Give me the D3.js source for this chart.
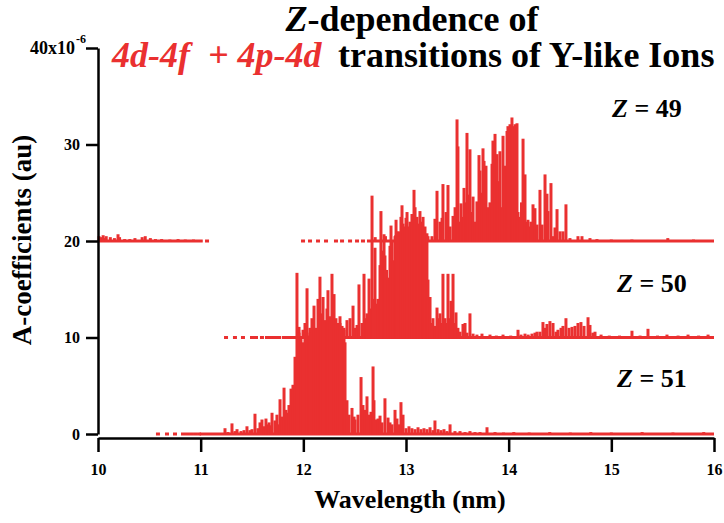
<!DOCTYPE html>
<html>
<head>
<meta charset="utf-8">
<script src="https://d3js.org/d3.v7.min.js"></script>
<style>
body { margin: 0; background: #fff; }
svg text { font-family: "Liberation Serif", "Times New Roman", serif; font-weight: bold; fill: #000; }
</style>
</head>
<body>
<svg id="chart" width="724" height="523"></svg>
<script>
// axis ticks
var xTicks = [10, 11, 12, 13, 14, 15, 16];
var yTicks = [0, 10, 20, 30, 40];

// charge states and their vertical offsets (x10^-6)
var seriesZ = ["49", "50", "51"];
var seriesOffset = [20, 10, 0];

// [wavelength nm, A-coefficient x10^-6] sticks
var z49Sticks = [[10.01,0.5],[10.03,0.4],[10.05,0.6],[10.07,0.3],[10.08,0.5],[10.12,0.4],[10.16,0.3],[10.195,0.7],[10.21,0.4],[10.26,0.2],[10.31,0.2],[10.36,0.3],[10.43,0.4],[10.46,0.5],[10.51,0.3],[10.56,0.2],[10.62,0.2],[10.70,0.15],[10.78,0.2],[10.85,0.15],[10.93,0.15],[11.0,0.1],
  [12.70,0.4],[12.80,0.5],[12.90,0.6],[13.0,0.4],[13.1,0.5],
  [13.214,0.5],[13.253,0.5],[13.282,2.3],[13.302,5.2],[13.331,2.0],[13.351,2.4],[13.360,5.9],[13.390,3.0],[13.409,5.8],[13.429,1.5],[13.458,2.6],[13.478,3.5],[13.497,12.6],[13.506,9.8],[13.526,2.0],[13.536,3.9],[13.555,2.5],[13.565,5.5],[13.580,4.0],[13.594,11.2],[13.604,4.8],[13.623,9.5],[13.638,3.0],[13.653,4.6],[13.672,2.0],[13.691,4.1],[13.711,8.9],[13.721,7.3],[13.740,5.0],[13.750,9.6],[13.760,8.3],[13.779,7.8],[13.799,3.5],[13.818,4.0],[13.838,8.0],[13.847,10.4],[13.867,11.1],[13.886,9.0],[13.896,6.2],[13.915,9.3],[13.935,3.5],[13.945,10.9],[13.964,7.8],[13.984,11.4],[13.993,11.9],[14.013,12.1],[14.032,12.8],[14.042,11.9],[14.062,12.1],[14.081,12.2],[14.091,3.0],[14.110,2.5],[14.125,4.0],[14.140,10.6],[14.159,6.9],[14.178,2.0],[14.188,2.2],[14.203,1.5],[14.217,2.0],[14.237,3.8],[14.256,3.4],[14.276,1.7],[14.305,5.3],[14.325,1.7],[14.354,6.9],[14.373,4.9],[14.383,3.1],[14.412,6.0],[14.432,0.5],[14.451,1.4],[14.471,3.3],[14.500,1.0],[14.529,1.0],[14.558,3.8],[14.597,0.3],[14.675,0.5],[14.714,0.5],[14.792,0.3],[14.860,0.2],[15.0,0.15],[15.2,0.15],[15.55,0.3],[15.8,0.15]];

var z50Sticks = [[11.958,1.1],[11.997,0.8],[12.065,1.0],[12.123,0.6],[12.192,1.4],[12.230,0.8],[12.289,1.2],[12.357,1.5],[12.377,1.2],[12.396,0.8],[12.425,1.8],[12.455,2.0],[12.484,3.3],[12.503,1.0],[12.523,1.3],[12.542,5.5],[12.571,1.5],[12.591,6.6],[12.610,2.0],[12.620,2.5],[12.640,6.1],[12.655,3.0],[12.669,14.7],[12.679,4.0],[12.698,9.3],[12.708,3.5],[12.727,4.0],[12.747,7.5],[12.756,13.1],[12.766,9.0],[12.786,10.7],[12.795,8.5],[12.810,7.0],[12.825,6.2],[12.844,9.5],[12.854,11.6],[12.864,10.0],[12.873,8.0],[12.893,10.5],[12.903,12.2],[12.912,11.0],[12.932,11.0],[12.951,12.5],[12.961,13.7],[12.971,11.8],[12.990,11.5],[13.000,12.4],[13.010,13.0],[13.029,11.5],[13.039,12.0],[13.058,12.8],[13.078,15.3],[13.088,13.5],[13.107,12.5],[13.117,11.8],[13.136,13.1],[13.146,12.0],[13.166,12.5],[13.175,11.0],[13.185,11.5],[13.204,10.8],[13.214,6.0],[13.234,4.2],[13.253,1.5],[13.263,2.0],[13.282,1.2],[13.302,3.1],[13.321,2.0],[13.331,2.5],[13.351,1.5],[13.360,6.6],[13.380,2.0],[13.399,1.5],[13.409,6.6],[13.429,2.0],[13.438,3.8],[13.458,6.6],[13.477,1.5],[13.487,2.6],[13.506,1.0],[13.526,0.6],[13.555,1.4],[13.575,1.5],[13.594,0.5],[13.623,2.5],[13.653,0.4],[13.691,0.3],[13.740,0.4],[13.818,0.3],[13.880,0.2],[13.945,0.3],[14.020,0.2],[14.091,0.8],[14.120,0.3],[14.159,0.4],[14.190,0.3],[14.227,0.4],[14.256,0.5],[14.276,0.6],[14.305,0.6],[14.334,1.6],[14.354,1.0],[14.373,1.4],[14.402,1.7],[14.432,1.5],[14.461,0.6],[14.480,0.8],[14.510,1.0],[14.529,1.2],[14.558,2.0],[14.588,1.0],[14.617,1.1],[14.646,1.2],[14.675,1.5],[14.704,1.6],[14.734,1.2],[14.773,2.1],[14.792,1.3],[14.820,0.5],[14.841,0.6],[14.900,0.3],[14.98,0.2],[15.08,0.2],[15.201,0.7],[15.28,0.2],[15.357,0.9],[15.45,0.2],[15.542,0.3],[15.65,0.2],[15.747,0.3],[15.85,0.2],[15.942,0.3]];

var z51Sticks = [[11.237,0.6],[11.266,0.2],[11.305,1.1],[11.334,0.3],[11.354,0.5],[11.393,0.3],[11.422,0.4],[11.451,0.8],[11.480,0.4],[11.500,0.5],[11.529,2.1],[11.558,0.6],[11.578,1.2],[11.597,1.5],[11.617,0.8],[11.636,1.6],[11.656,1.0],[11.666,1.2],[11.685,0.9],[11.695,2.2],[11.724,1.4],[11.743,2.0],[11.763,1.0],[11.773,3.6],[11.792,1.8],[11.812,4.8],[11.831,2.5],[11.841,2.2],[11.860,3.0],[11.880,4.7],[11.899,5.1],[11.919,8.0],[11.938,16.7],[11.958,10.5],[11.977,10.0],[11.997,9.5],[12.016,11.5],[12.036,15.1],[12.055,10.2],[12.065,10.5],[12.084,12.0],[12.104,13.3],[12.123,11.0],[12.143,14.0],[12.162,16.3],[12.172,12.5],[12.192,14.2],[12.211,11.8],[12.230,13.0],[12.240,14.9],[12.260,12.2],[12.279,16.6],[12.299,14.5],[12.318,12.0],[12.338,11.5],[12.357,12.2],[12.377,10.8],[12.396,11.0],[12.406,9.5],[12.425,3.5],[12.445,2.0],[12.474,2.7],[12.494,1.8],[12.503,1.5],[12.532,2.0],[12.562,5.9],[12.581,3.0],[12.601,2.5],[12.620,3.9],[12.640,2.0],[12.659,2.3],[12.679,7.0],[12.688,3.5],[12.708,1.5],[12.727,1.6],[12.747,1.9],[12.766,1.2],[12.795,3.7],[12.825,1.7],[12.844,1.2],[12.864,1.0],[12.893,2.5],[12.912,1.6],[12.932,1.0],[12.951,3.3],[12.971,2.0],[13.000,0.6],[13.029,0.8],[13.058,0.6],[13.088,0.5],[13.117,0.7],[13.146,0.5],[13.175,0.6],[13.204,0.5],[13.234,0.7],[13.263,0.4],[13.282,1.4],[13.312,0.5],[13.341,0.4],[13.370,0.5],[13.399,0.3],[13.429,1.0],[13.477,0.3],[13.526,0.3],[13.575,0.2],[13.623,0.3],[13.672,0.2],[13.721,0.2],[13.789,0.7],[13.867,0.2],[13.95,0.15],[14.05,0.2],[14.2,0.15],[14.4,0.2],[14.6,0.15],[14.8,0.2],[15.0,0.15],[15.3,0.2],[15.6,0.15],[15.9,0.2]];

// isolated weak lines that show as dots on each baseline
var z49Dots = [11.062, 11.997, 12.065, 12.143, 12.221, 12.318, 12.377, 12.455, 12.523, 12.581];
var z50Dots = [11.247, 11.334, 11.412, 11.500, 11.539, 11.597, 11.646, 11.685, 11.724, 11.763];
var z51Dots = [10.584, 10.672, 10.750, 10.828, 10.867, 10.906, 10.945, 10.984];

// wavelength ranges where the weak lines merge into a solid baseline
var z49Solid = [[10.0, 11.02], [12.62, 16.0]];
var z50Solid = [[11.79, 16.0]];
var z51Solid = [[10.99, 16.0]];

var allSticks = [z49Sticks, z50Sticks, z51Sticks];
var allDots = [z49Dots, z50Dots, z51Dots];
var allSolid = [z49Solid, z50Solid, z51Solid];

var red = "#ea3030";
var svg = d3.select("#chart");

var x = d3.scaleLinear().domain([10, 16]).range([98, 714]);
var y = d3.scaleLinear().domain([0, 40]).range([434, 48]);

// spectra
for (let i = 0; i < seriesZ.length; i++) {
	let off = seriesOffset[i];
	let g = svg.append("g");

	g.selectAll("line.solid")
		.data(allSolid[i])
		.join("line")
		.attr("x1", d => x(d[0]))
		.attr("x2", d => x(d[1]))
		.attr("y1", y(off))
		.attr("y2", y(off))
		.attr("stroke", red)
		.attr("stroke-width", 3);

	g.selectAll("rect.dot")
		.data(allDots[i])
		.join("rect")
		.attr("x", d => x(d) - 2)
		.attr("y", y(off) - 1.5)
		.attr("width", 4)
		.attr("height", 3)
		.attr("fill", red);

	g.selectAll("line.stick")
		.data(allSticks[i])
		.join("line")
		.attr("x1", d => x(d[0]))
		.attr("x2", d => x(d[0]))
		.attr("y1", y(off) + 1)
		.attr("y2", d => y(off + d[1]))
		.attr("stroke", red)
		.attr("stroke-width", 3);
}

// y axis
var yAxis = svg.append("g")
	.attr("transform", "translate(98,0)")
	.call(d3.axisLeft(y).tickValues(yTicks).tickSize(12).tickSizeOuter(0)
		.tickFormat(d => d === 40 ? "" : d));
yAxis.select(".domain").attr("stroke-width", 2.5);
yAxis.selectAll(".tick line").attr("stroke-width", 2.5);
yAxis.selectAll(".tick text").attr("font-size", 16).attr("x", -18);

svg.append("text").attr("x", 75).attr("y", y(40) + 6).attr("text-anchor", "end").attr("font-size", 18).text("40x10");
svg.append("text").attr("x", 76).attr("y", y(40) - 5).attr("font-size", 12).text("-6");

// x axis
var xAxis = svg.append("g")
	.attr("transform", "translate(0,438)")
	.call(d3.axisBottom(x).tickValues(xTicks).tickSize(14).tickSizeOuter(0).tickPadding(12)
		.tickFormat(d3.format("d")));
xAxis.select(".domain").attr("stroke-width", 2.5);
xAxis.selectAll(".tick line").attr("stroke-width", 2.5);
xAxis.selectAll(".tick text").attr("font-size", 16);

// axis titles
svg.append("text")
	.attr("transform", "translate(31,240) rotate(-90)")
	.attr("text-anchor", "middle")
	.attr("font-size", 27)
	.text("A-coefficients (au)");

svg.append("text")
	.attr("x", 410).attr("y", 508)
	.attr("text-anchor", "middle")
	.attr("font-size", 26)
	.text("Wavelength (nm)");

// title
var t1 = svg.append("text").attr("x", 412).attr("y", 31).attr("text-anchor", "middle").attr("font-size", 36);
t1.append("tspan").attr("font-style", "italic").text("Z");
t1.append("tspan").text("-dependence of");

svg.append("text").attr("x", 112).attr("y", 67).attr("font-size", 36)
	.attr("font-style", "italic").style("fill", red)
	.text("4d-4f\u00a0 + 4p-4d");
svg.append("text").attr("x", 338).attr("y", 67).attr("font-size", 36)
	.text("transitions of Y-like Ions");

// Z labels
var labelX = [612, 617, 617];
var labelY = [117, 292, 387];
for (let i = 0; i < seriesZ.length; i++) {
	let t = svg.append("text").attr("x", labelX[i]).attr("y", labelY[i]).attr("font-size", 26);
	t.append("tspan").attr("font-style", "italic").text("Z");
	t.append("tspan").text(" = " + seriesZ[i]);
}
</script>
</body>
</html>
